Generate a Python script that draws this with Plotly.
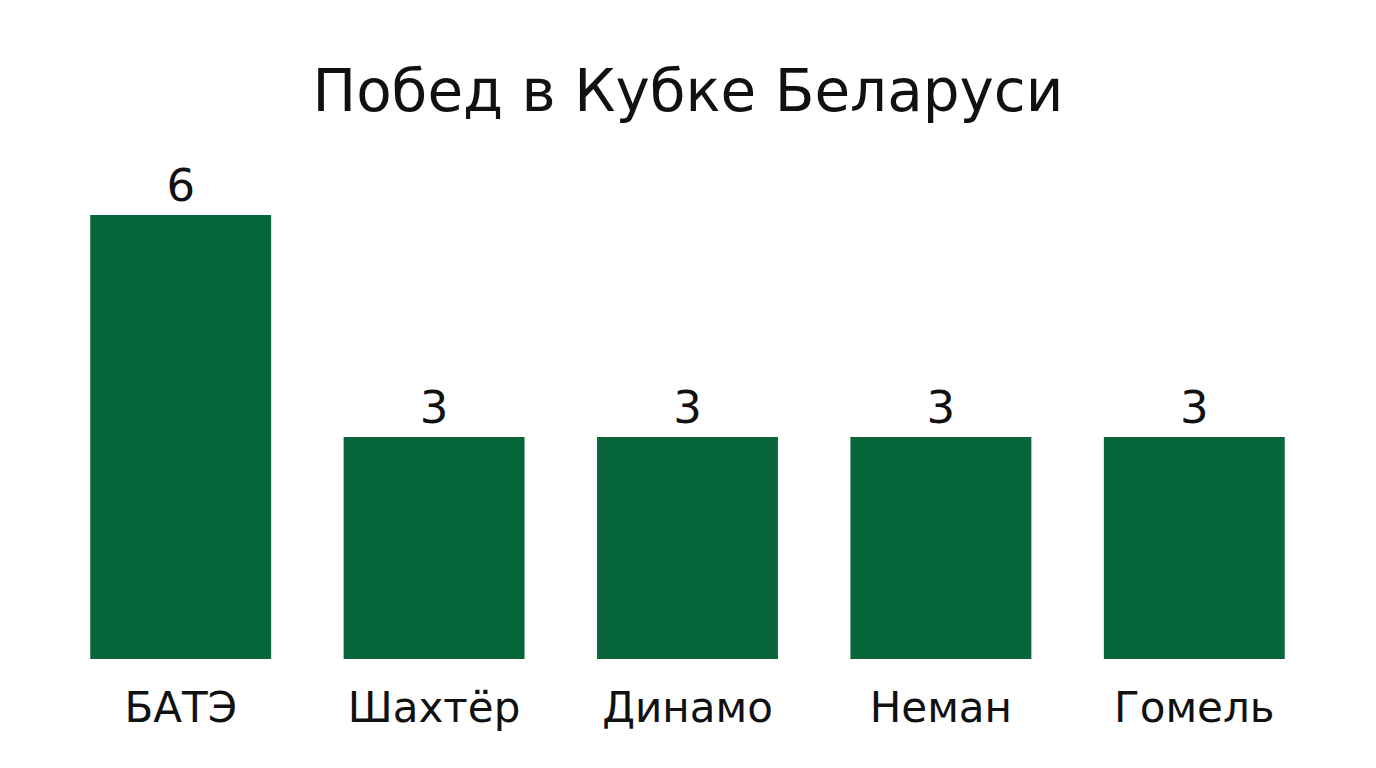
import plotly.graph_objects as go

teams = ["БАТЭ", "Шахтёр", "Динамо", "Неман", "Гомель"]
wins = [6, 3, 3, 3, 3]

FONT = "DejaVu Sans"
GREEN = "#07673A"

fig = go.Figure(go.Bar(
    x=teams, y=wins,
    marker=dict(color=GREEN, line=dict(width=0)),
    text=[str(v) for v in wins],
    textposition="outside",
    textfont=dict(family=FONT, size=45, color="#111111"),
    cliponaxis=False,
))

fig.update_layout(
    width=1376, height=768,
    paper_bgcolor="white", plot_bgcolor="white",
    margin=dict(l=46, r=63, t=152, b=117),
    bargap=0.286,
    showlegend=False,
    title=dict(text="Побед в Кубке Беларуси", x=(688 - 8) / 1376, xanchor="center",
               y=1 - 83/768, yanchor="middle", yref="container",
               font=dict(family=FONT, size=58, color="#111111")),
)
fig.update_xaxes(showgrid=False, showline=False, zeroline=False,
                 tickfont=dict(family=FONT, size=42, color="#111111"),
                 ticks="", ticklabelstandoff=20)
fig.update_yaxes(visible=False, range=[0, (659 - 160) / 74])

fig.write_html("out.html")
